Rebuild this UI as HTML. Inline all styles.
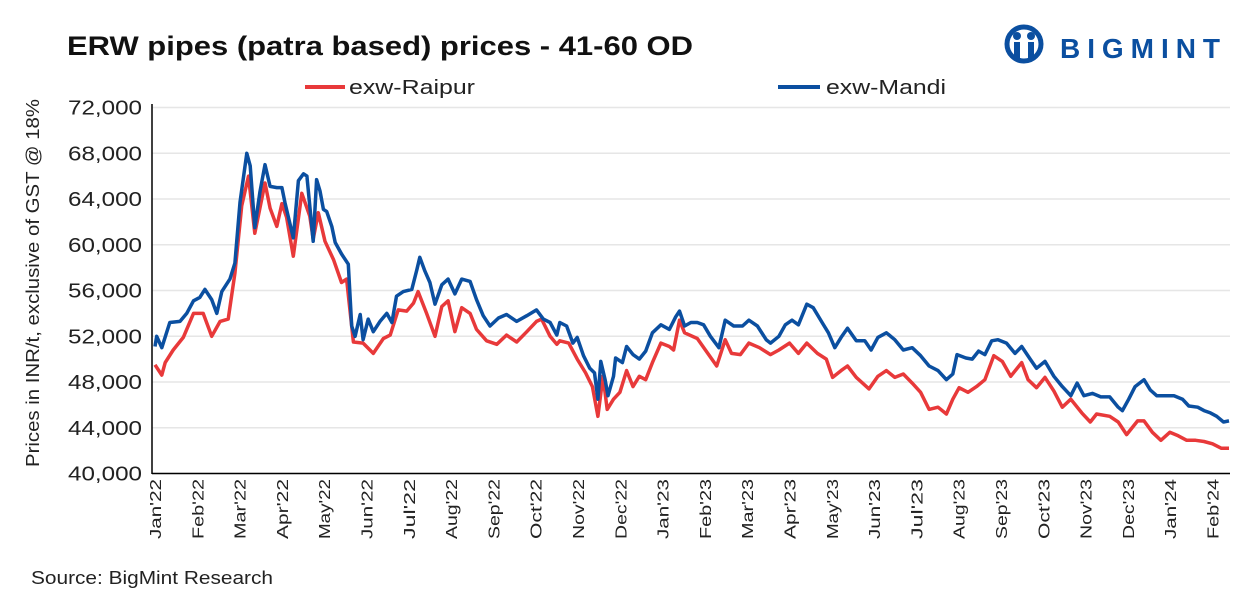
<!DOCTYPE html>
<html><head><meta charset="utf-8">
<style>
body{margin:0;background:#fff;width:1245px;height:601px;overflow:hidden;font-family:"Liberation Sans",sans-serif;}
</style></head>
<body>
<svg width="1245" height="601" viewBox="0 0 1245 601" xmlns="http://www.w3.org/2000/svg" font-family="Liberation Sans, sans-serif">
<text x="67" y="55" font-size="27" font-weight="bold" fill="#111" textLength="626" lengthAdjust="spacingAndGlyphs">ERW pipes (patra based) prices - 41-60 OD</text>
<g>
<circle cx="1024" cy="44" r="17" fill="none" stroke="#0b4fa0" stroke-width="5"/>
<circle cx="1017" cy="36" r="4" fill="#0b4fa0"/><circle cx="1031" cy="36" r="4" fill="#0b4fa0"/>
<rect x="1014" y="42" width="6" height="18" fill="#0b4fa0"/><rect x="1028" y="42" width="6" height="18" fill="#0b4fa0"/>
<text x="1060" y="58" font-size="28" font-weight="bold" fill="#0b4fa0" textLength="160" lengthAdjust="spacing">BIGMINT</text>
</g>
<g>
<line x1="305" y1="87" x2="345" y2="87" stroke="#e8393a" stroke-width="4"/>
<text x="349" y="94" font-size="20" fill="#222" textLength="126" lengthAdjust="spacingAndGlyphs">exw-Raipur</text>
<line x1="778" y1="87" x2="820" y2="87" stroke="#0b4fa0" stroke-width="4"/>
<text x="826" y="94" font-size="20" fill="#222" textLength="120" lengthAdjust="spacingAndGlyphs">exw-Mandi</text>
</g>
<g id="grid"></g>
<g id="yticks"></g>
<g id="xticks"></g>
<text transform="translate(39,283) rotate(-90)" text-anchor="middle" font-size="18" fill="#222" textLength="368" lengthAdjust="spacingAndGlyphs">Prices in INR/t, exclusive of GST @ 18%</text>
<g id="series"></g>
<line x1="152" y1="104" x2="152" y2="474" stroke="#000" stroke-width="1.5"/>
<line x1="152" y1="473.5" x2="1230" y2="473.5" stroke="#000" stroke-width="1.5"/>
<text x="31" y="584" font-size="18" fill="#222" textLength="242" lengthAdjust="spacingAndGlyphs">Source: BigMint Research</text>
</svg>
<script>
const yTicks=[40000,44000,48000,52000,56000,60000,64000,68000,72000];
const xLabels=["Jan'22","Feb'22","Mar'22","Apr'22","May'22","Jun'22","Jul'22","Aug'22","Sep'22","Oct'22","Nov'22","Dec'22","Jan'23","Feb'23","Mar'23","Apr'23","May'23","Jun'23","Jul'23","Aug'23","Sep'23","Oct'23","Nov'23","Dec'23","Jan'24","Feb'24"];
const raipurT=[0,0.16,0.24,0.43,0.67,0.91,1.14,1.34,1.54,1.73,1.89,2.05,2.21,2.36,2.60,2.72,2.88,3.0,3.11,3.27,3.47,3.66,3.74,3.86,4.02,4.22,4.41,4.53,4.69,4.92,5.16,5.40,5.56,5.75,5.95,6.11,6.22,6.42,6.62,6.78,6.93,7.09,7.25,7.45,7.60,7.84,8.08,8.31,8.55,8.79,9.02,9.14,9.34,9.50,9.57,9.78,9.98,10.18,10.34,10.47,10.59,10.69,10.84,10.99,11.15,11.30,11.45,11.60,11.76,11.96,12.16,12.26,12.40,12.52,12.82,13.03,13.28,13.48,13.63,13.84,14.04,14.29,14.55,14.75,15.00,15.21,15.41,15.66,15.87,16.02,16.22,16.37,16.58,16.88,17.09,17.29,17.49,17.69,17.90,18.10,18.30,18.51,18.71,18.86,19.01,19.22,19.42,19.62,19.83,20.03,20.23,20.49,20.64,20.84,21.04,21.25,21.45,21.65,21.91,22.11,22.26,22.57,22.77,22.97,23.23,23.38,23.58,23.78,23.99,24.19,24.39,24.60,24.80,25.00,25.21,25.39];
const raipurV=[49.5,48.6,49.7,50.8,51.9,54.0,54.0,52.0,53.3,53.5,57.5,63.4,66.0,61.0,65.4,63.2,61.6,63.6,62.4,59.0,64.5,62.5,60.5,62.8,60.3,58.7,56.7,57.0,51.5,51.4,50.5,51.8,52.1,54.3,54.2,54.9,55.9,54.0,52.0,54.6,55.1,52.4,54.5,54.0,52.6,51.6,51.3,52.1,51.5,52.4,53.3,53.5,52.0,51.3,51.6,51.4,50.0,48.8,47.6,45.0,48.5,45.6,46.5,47.1,49.0,47.6,48.5,48.2,49.7,51.4,51.1,50.8,53.4,52.3,51.8,50.7,49.4,51.7,50.5,50.4,51.4,51.0,50.4,50.8,51.4,50.5,51.4,50.5,50.0,48.4,49.0,49.4,48.4,47.4,48.5,49.0,48.4,48.7,47.9,47.1,45.6,45.8,45.2,46.5,47.5,47.1,47.6,48.2,50.3,49.8,48.5,49.7,48.2,47.5,48.4,47.2,45.8,46.5,45.3,44.5,45.2,45.0,44.5,43.4,44.6,44.6,43.6,42.9,43.6,43.3,42.9,42.9,42.8,42.6,42.2,42.2];
const mandiT=[0,0.04,0.16,0.35,0.59,0.75,0.91,1.06,1.18,1.34,1.46,1.58,1.77,1.89,2.01,2.17,2.25,2.36,2.48,2.60,2.72,2.88,3.0,3.07,3.27,3.39,3.51,3.59,3.74,3.82,3.90,3.98,4.06,4.18,4.26,4.41,4.57,4.65,4.73,4.85,4.92,5.04,5.16,5.32,5.48,5.60,5.71,5.87,6.07,6.19,6.26,6.38,6.50,6.62,6.78,6.93,7.09,7.25,7.45,7.60,7.76,7.92,8.12,8.31,8.55,8.79,9.02,9.18,9.34,9.50,9.57,9.73,9.88,9.98,10.13,10.28,10.39,10.47,10.54,10.64,10.71,10.84,10.89,11.05,11.15,11.30,11.45,11.60,11.76,11.96,12.16,12.31,12.40,12.52,12.67,12.82,12.97,13.13,13.33,13.48,13.68,13.89,14.04,14.24,14.45,14.55,14.75,14.90,15.06,15.21,15.41,15.56,15.77,15.92,16.07,16.22,16.37,16.58,16.78,16.93,17.09,17.29,17.49,17.69,17.90,18.10,18.30,18.51,18.71,18.86,18.96,19.17,19.32,19.47,19.62,19.78,19.93,20.13,20.33,20.49,20.69,20.84,21.04,21.25,21.45,21.65,21.80,21.96,22.16,22.36,22.57,22.77,22.87,23.02,23.17,23.38,23.53,23.68,23.89,24.09,24.29,24.44,24.65,24.80,24.95,25.10,25.26,25.39];
const mandiV=[51.1,52.0,51.0,53.2,53.3,54.0,55.1,55.4,56.1,55.2,54.0,55.9,57.0,58.4,63.7,68.0,66.9,61.5,64.6,67.0,65.1,65.0,65.0,63.7,60.6,65.6,66.2,66.0,60.3,65.7,64.7,63.1,62.9,61.6,60.2,59.2,58.3,52.9,52.0,53.9,51.7,53.5,52.4,53.3,54.0,53.2,55.5,55.9,56.1,57.8,58.9,57.7,56.7,54.8,56.5,57.0,55.7,57.0,56.8,55.2,53.8,52.9,53.6,53.9,53.3,53.8,54.3,53.5,53.2,52.1,53.2,52.9,51.4,51.9,50.3,49.2,48.8,46.5,49.8,48.2,46.8,48.5,50.1,49.7,51.1,50.4,50.0,50.7,52.3,53.0,52.6,53.7,54.2,52.9,53.2,53.2,53.0,52.0,51.0,53.4,52.9,52.9,53.4,52.9,51.7,51.4,52.0,53.0,53.4,53.0,54.8,54.5,53.2,52.3,51.0,51.9,52.7,51.6,51.6,50.8,51.9,52.3,51.7,50.8,51.0,50.3,49.4,49.0,48.2,48.7,50.4,50.1,50.0,50.7,50.4,51.6,51.7,51.4,50.5,51.1,50.0,49.2,49.8,48.5,47.6,46.8,47.9,46.8,47.0,46.7,46.7,45.8,45.5,46.5,47.6,48.2,47.3,46.8,46.8,46.8,46.5,45.9,45.8,45.5,45.3,45.0,44.5,44.6];

const NS='http://www.w3.org/2000/svg';
const x0=155, pxPerMonth=42.3, yTop=107.5, yBot=473.5, vMin=40000, vMax=72000;
function xs(m){return x0+m*pxPerMonth;}
function ys(v){return yBot-(v-vMin)/(vMax-vMin)*(yBot-yTop);}
const grid=document.getElementById('grid'), yt=document.getElementById('yticks'), xt=document.getElementById('xticks'), ser=document.getElementById('series');
yTicks.forEach(v=>{
  const l=document.createElementNS(NS,'line');
  
  
  l.setAttribute('x1',152);l.setAttribute('x2',1230);l.setAttribute('y1',ys(v));l.setAttribute('y2',ys(v));
  l.setAttribute('stroke','#e6e6e6');l.setAttribute('stroke-width','1.5');
  grid.appendChild(l);
  const t=document.createElementNS(NS,'text');
  
  
  t.setAttribute('x',142);t.setAttribute('y',ys(v)+7);t.setAttribute('text-anchor','end');
  t.setAttribute('font-size','20');t.setAttribute('fill','#222');
  t.setAttribute('textLength','74');t.setAttribute('lengthAdjust','spacingAndGlyphs');
  t.textContent=v.toLocaleString('en-US');
  yt.appendChild(t);
});
xLabels.forEach((s,i)=>{
  const t=document.createElementNS(NS,'text');
  
  
  const x=xs(i)+6;
  t.setAttribute('transform','translate('+x+',479) rotate(-90)');
  t.setAttribute('text-anchor','end');t.setAttribute('font-size','16');t.setAttribute('fill','#222');
  t.setAttribute('textLength','60');t.setAttribute('lengthAdjust','spacingAndGlyphs');
  t.textContent=s;
  xt.appendChild(t);
});
function drawLine(T,V,color,name){
  const p=document.createElementNS(NS,'path');
  
  
  p.setAttribute('d',T.map((m,i)=>(i?'L':'M')+xs(m).toFixed(1)+','+ys(V[i]*1000).toFixed(1)).join(''));
  p.setAttribute('fill','none');p.setAttribute('stroke',color);p.setAttribute('stroke-width','3.5');p.setAttribute('stroke-linejoin','round');
  ser.appendChild(p);
}
drawLine(raipurT,raipurV,'#e8393a','raipur-line');
drawLine(mandiT,mandiV,'#0b4fa0','mandi-line');
</script>
</body></html>
